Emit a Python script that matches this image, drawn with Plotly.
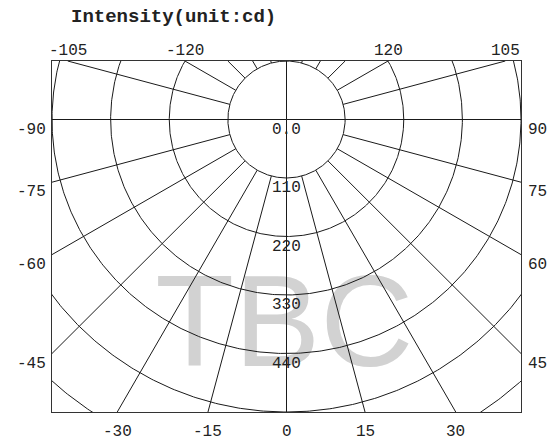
import numpy as np
import plotly.graph_objects as go

TITLE = "Intensity(unit:cd)"
WATERMARK = "TBC"
RING_VALUES = [110, 220, 330, 440, 550, 660]
RADIAL_TICK_VALUES = [0, 110, 220, 330, 440]
RADIAL_TICK_TEXT = ["0.0", "110", "220", "330", "440"]
RAY_ANGLES = list(range(-165, 181, 15))
TOP_ANGLES = [-105, -120, 120, 105]
LEFT_ANGLES = [-90, -75, -60, -45]
RIGHT_ANGLES = [90, 75, 60, 45]
BOTTOM_ANGLES = [-30, -15, 0, 15, 30]

X_RANGE = [-440, 440]
Y_RANGE = [-550, 110]


def direction(a):
    rad = np.radians(a)
    return np.sin(rad), -np.cos(rad)


def border_hit(a):
    dx, dy = direction(a)
    ts = []
    if dx > 1e-9:
        ts.append(X_RANGE[1] / dx)
    if dx < -1e-9:
        ts.append(X_RANGE[0] / dx)
    if dy > 1e-9:
        ts.append(Y_RANGE[1] / dy)
    if dy < -1e-9:
        ts.append(Y_RANGE[0] / dy)
    t = min(ts)
    return t * dx, t * dy


fig = go.Figure()

# watermark beneath the grid
fig.add_trace(go.Scatter(
    x=[-4], y=[-402], mode="text", text=[WATERMARK],
    textfont=dict(family="Liberation Sans, Arial", size=129, color="#d2d2d2"),
    textposition="middle center", hoverinfo="skip", showlegend=False,
))

# circles
theta = np.linspace(0, 2 * np.pi, 721)
cx, cy = [], []
for r in RING_VALUES:
    cx += list(r * np.cos(theta)) + [None]
    cy += list(r * np.sin(theta)) + [None]
fig.add_trace(go.Scatter(x=cx, y=cy, mode="lines",
                         line=dict(color="#1a1a1a", width=1),
                         hoverinfo="skip", showlegend=False))

# rays
rx, ry = [], []
for a in RAY_ANGLES:
    dx, dy = direction(a)
    r0 = 0 if a % 90 == 0 else RING_VALUES[0]
    ex, ey = border_hit(a)
    rx += [r0 * dx, ex, None]
    ry += [r0 * dy, ey, None]
fig.add_trace(go.Scatter(x=rx, y=ry, mode="lines",
                         line=dict(color="#1a1a1a", width=1),
                         hoverinfo="skip", showlegend=False))

LABEL_FONT = dict(family="Liberation Mono, Courier New, monospace", size=16, color="#222222")

annotations = []
for a in TOP_ANGLES:
    x, y = border_hit(a)
    annotations.append(dict(x=x, y=y, xref="x", yref="y", text=str(a), showarrow=False,
                            xanchor="center", yanchor="middle", yshift=10, font=LABEL_FONT))
for a in BOTTOM_ANGLES:
    x, y = border_hit(a)
    annotations.append(dict(x=x, y=y, xref="x", yref="y", text=str(a), showarrow=False,
                            xanchor="center", yanchor="middle", yshift=-20, font=LABEL_FONT))
for a in LEFT_ANGLES:
    x, y = border_hit(a)
    annotations.append(dict(x=x, y=y, xref="x", yref="y", text=str(a), showarrow=False,
                            xanchor="right", yanchor="middle", xshift=-4, yshift=-10, font=LABEL_FONT))
for a in RIGHT_ANGLES:
    x, y = border_hit(a)
    annotations.append(dict(x=x, y=y, xref="x", yref="y", text=str(a), showarrow=False,
                            xanchor="left", yanchor="middle", xshift=5, yshift=-10, font=LABEL_FONT))
for v, t in zip(RADIAL_TICK_VALUES, RADIAL_TICK_TEXT):
    annotations.append(dict(x=0, y=-v, xref="x", yref="y", text=t, showarrow=False,
                            xanchor="center", yanchor="middle", yshift=-10, font=LABEL_FONT))

annotations.append(dict(x=0.259, y=1.125, xref="paper", yref="paper", text=TITLE, showarrow=False,
                        xanchor="center", yanchor="middle",
                        font=dict(family="Liberation Mono, Courier New, monospace", size=19,
                                  color="#222222", weight="bold")))

fig.update_layout(
    width=555, height=441,
    margin=dict(l=52, r=34, t=61, b=29),
    paper_bgcolor="white", plot_bgcolor="white",
    xaxis=dict(range=X_RANGE, showgrid=False, zeroline=False, showticklabels=False, ticks="",
               showline=True, mirror=True, linecolor="#333333", linewidth=1, fixedrange=True),
    yaxis=dict(range=Y_RANGE, showgrid=False, zeroline=False, showticklabels=False, ticks="",
               showline=True, mirror=True, linecolor="#333333", linewidth=1, fixedrange=True),
    annotations=annotations,
    showlegend=False,
    hovermode=False,
)

# remove the default 8px page margin so the figure fills the window exactly
fig.write_html("out.html",
               config={"displayModeBar": False, "staticPlot": True},
               post_script="document.body.style.margin='0';document.body.style.padding='0';")
